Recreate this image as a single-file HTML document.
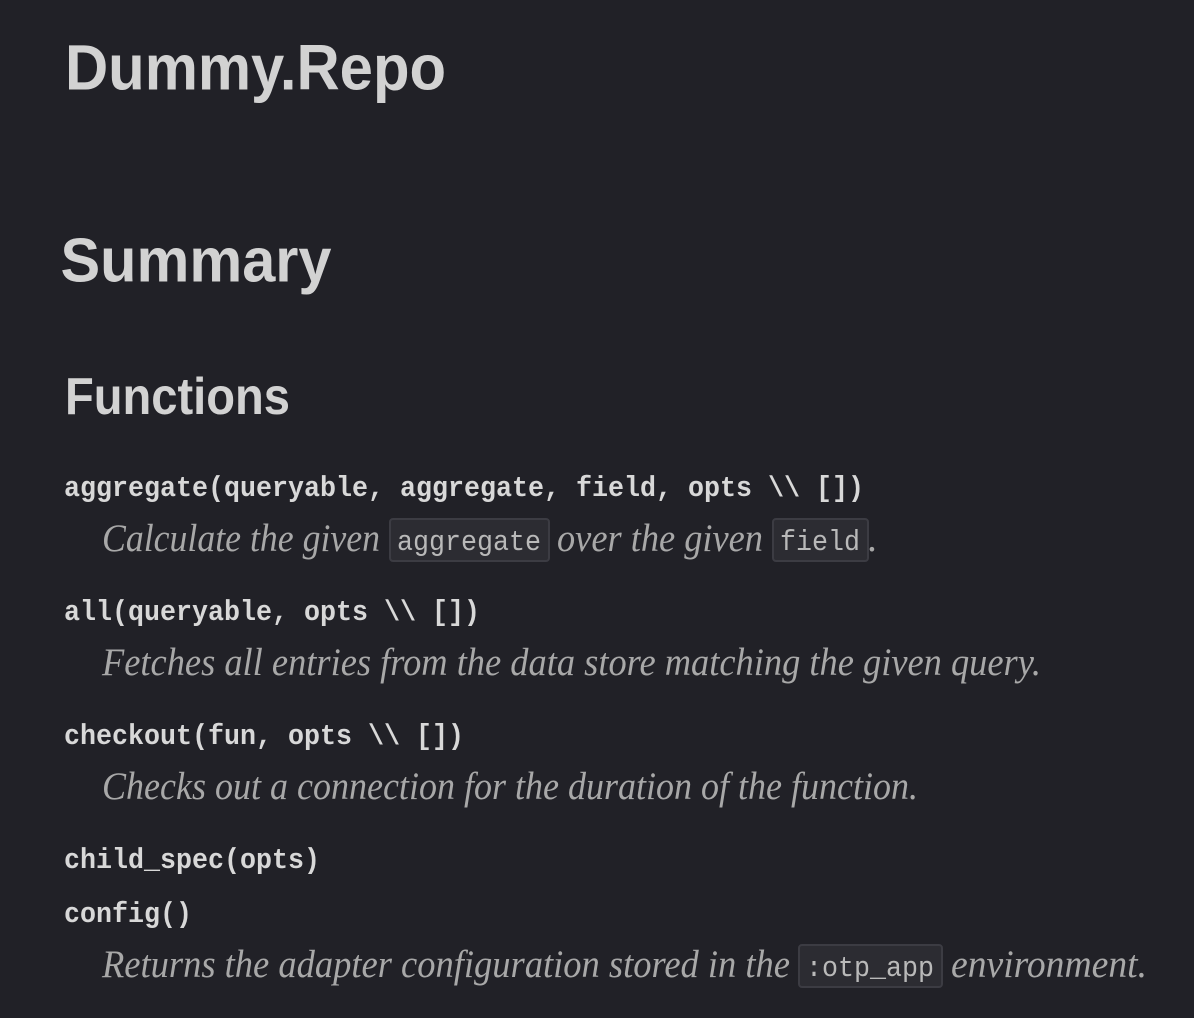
<!DOCTYPE html>
<html><head><meta charset="utf-8"><style>
html,body{margin:0;padding:0;background:#212127}
svg{display:block}
.h{font-family:"Liberation Sans",sans-serif;font-weight:700;fill:#d2d2d2}
.m{font-family:"Liberation Mono",monospace;font-weight:700;font-size:29px;fill:#d8d8d8}
.c{font-family:"Liberation Mono",monospace;font-size:29px;fill:#b9b9b9}
.i{font-family:"Liberation Serif",serif;font-style:italic;font-size:39px;fill:#a8a8a8}
rect{fill:#2c2c32;stroke:#3c3c43;stroke-width:2}
</style></head><body>
<svg width="1194" height="1018" viewBox="0 0 1194 1018" xmlns="http://www.w3.org/2000/svg">
<text class="h" x="65" y="89.5" font-size="64" textLength="381" lengthAdjust="spacingAndGlyphs">Dummy.Repo</text>
<text class="h" x="60.5" y="281.5" font-size="62" textLength="271" lengthAdjust="spacingAndGlyphs">Summary</text>
<text class="h" x="65" y="414" font-size="52" textLength="225" lengthAdjust="spacingAndGlyphs">Functions</text>

<text class="m" x="64" y="496" textLength="800" lengthAdjust="spacingAndGlyphs">aggregate(queryable, aggregate, field, opts \\ [])</text>
<text class="i" x="102" y="551" textLength="278" lengthAdjust="spacingAndGlyphs">Calculate the given</text>
<rect x="390" y="519" width="159" height="42" rx="3"/>
<text class="c" x="397" y="550" textLength="144" lengthAdjust="spacingAndGlyphs">aggregate</text>
<text class="i" x="557" y="551" textLength="206" lengthAdjust="spacingAndGlyphs">over the given</text>
<rect x="773" y="519" width="95" height="42" rx="3"/>
<text class="c" x="780" y="550" textLength="80" lengthAdjust="spacingAndGlyphs">field</text>
<text class="i" x="868" y="551">.</text>

<text class="m" x="64" y="620" textLength="416" lengthAdjust="spacingAndGlyphs">all(queryable, opts \\ [])</text>
<text class="i" x="102" y="675" textLength="939" lengthAdjust="spacingAndGlyphs">Fetches all entries from the data store matching the given query.</text>

<text class="m" x="64" y="744" textLength="400" lengthAdjust="spacingAndGlyphs">checkout(fun, opts \\ [])</text>
<text class="i" x="102" y="799" textLength="816" lengthAdjust="spacingAndGlyphs">Checks out a connection for the duration of the function.</text>

<text class="m" x="64" y="868" textLength="256" lengthAdjust="spacingAndGlyphs">child_spec(opts)</text>
<text class="m" x="64" y="922" textLength="128" lengthAdjust="spacingAndGlyphs">config()</text>
<text class="i" x="102" y="977" textLength="688" lengthAdjust="spacingAndGlyphs">Returns the adapter configuration stored in the</text>
<rect x="799" y="945" width="143" height="42" rx="3"/>
<text class="c" x="806" y="976" textLength="128" lengthAdjust="spacingAndGlyphs">:otp_app</text>
<text class="i" x="951" y="977" textLength="196" lengthAdjust="spacingAndGlyphs">environment.</text>
</svg>
</body></html>
